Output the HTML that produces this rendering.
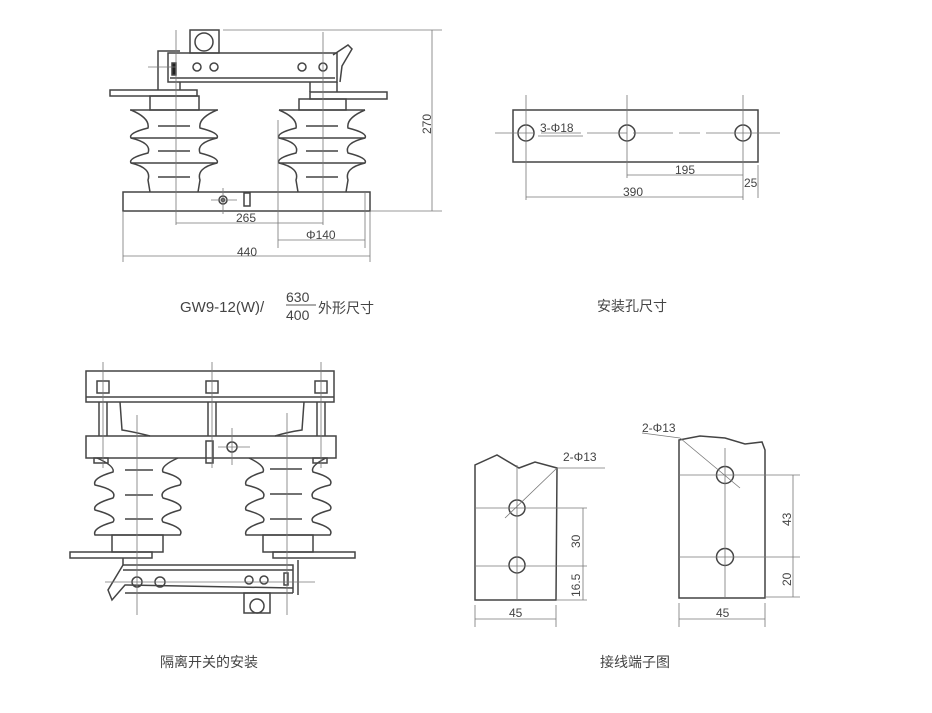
<!DOCTYPE html>
<html><head><meta charset="utf-8"><style>
html,body{margin:0;padding:0;background:#fff;}
svg{display:block}
text{font-family:"Liberation Sans","Noto Sans CJK SC",sans-serif;fill:#444}
</style></head><body>
<svg width="932" height="713" viewBox="0 0 932 713" xmlns="http://www.w3.org/2000/svg">
<g fill="none" stroke="#444" stroke-width="1.5">
<!-- ===== Top-left drawing ===== -->
<rect x="190" y="30" width="29" height="23"/>
<circle cx="204" cy="42" r="9"/>
<rect x="168" y="53" width="169" height="29"/>
<line x1="170" y1="78" x2="335" y2="78"/>
<polyline points="158,90 158,51 180,51"/>
<line x1="180" y1="82" x2="180" y2="90"/>
<circle cx="197" cy="67" r="4"/><circle cx="214" cy="67" r="4"/>
<circle cx="302" cy="67" r="4"/><circle cx="323" cy="67" r="4"/>
<rect x="172" y="63" width="4" height="12" fill="#222"/>
<polyline points="333,55 348,45 352,49 342,66 340,82"/>
<rect x="110" y="90" width="87" height="6"/>
<rect x="310" y="92" width="77" height="7"/>
<line x1="310" y1="82" x2="310" y2="92"/><line x1="337" y1="82" x2="337" y2="92"/>
<rect x="150" y="96" width="49" height="14"/>
<rect x="299" y="99" width="47" height="11"/>
<!-- left insulator -->
<line x1="130" y1="110" x2="218" y2="110"/>
<path d="M131,110 Q150,118 148,128 Q128,133 131,138 Q152,143 148,153 Q128,158 131,163 Q152,168 148,180 L150,192 M217,110 Q198,118 200,128 Q220,133 217,138 Q196,143 200,153 Q220,158 217,163 Q196,168 200,180 L198,192"/>
<line x1="131" y1="138" x2="217" y2="138"/><line x1="131" y1="163" x2="217" y2="163"/>
<line x1="158" y1="126" x2="190" y2="126"/><line x1="158" y1="151" x2="190" y2="151"/><line x1="158" y1="177" x2="190" y2="177"/>
<!-- right insulator -->
<line x1="279" y1="110" x2="365" y2="110"/>
<path d="M279,110 Q298,118 296,128 Q276,133 279,138 Q300,143 296,153 Q276,158 279,163 Q300,168 296,180 L298,192 M365,110 Q346,118 348,128 Q368,133 365,138 Q344,143 348,153 Q368,158 365,163 Q344,168 348,180 L346,192"/>
<line x1="279" y1="138" x2="365" y2="138"/><line x1="279" y1="163" x2="365" y2="163"/>
<line x1="306" y1="126" x2="338" y2="126"/><line x1="306" y1="151" x2="338" y2="151"/><line x1="306" y1="177" x2="338" y2="177"/>
<rect x="123" y="192" width="247" height="19"/>
<circle cx="223" cy="200" r="4"/><circle cx="223" cy="200" r="1.5"/>
<rect x="244" y="193" width="6" height="13"/>
</g>
<g stroke="#777" stroke-width="0.8" fill="none">
<line x1="176" y1="30" x2="176" y2="225"/><line x1="323" y1="32" x2="323" y2="225"/>
<line x1="148" y1="67" x2="176" y2="67"/>
<line x1="211" y1="200" x2="237" y2="200"/><line x1="223" y1="188" x2="223" y2="214"/>
<line x1="176" y1="223" x2="323" y2="223"/>
<line x1="278" y1="120" x2="278" y2="248"/><line x1="365" y1="192" x2="365" y2="248"/>
<line x1="278" y1="240" x2="365" y2="240"/>
<line x1="123" y1="211" x2="123" y2="262"/><line x1="370" y1="211" x2="370" y2="262"/>
<line x1="123" y1="256" x2="370" y2="256"/>
<line x1="223" y1="30" x2="442" y2="30"/><line x1="370" y1="211" x2="442" y2="211"/>
<line x1="432" y1="30" x2="432" y2="211"/>
</g>
<g font-size="12">
<text x="236" y="222">265</text>
<text x="306" y="239">Φ140</text>
<text x="237" y="256">440</text>
<text transform="translate(431,134) rotate(-90)">270</text>
</g>
<text x="180" y="312" font-size="15">GW9-12(W)/</text>
<text x="286" y="302" font-size="14">630</text>
<line x1="286" y1="305" x2="316" y2="305" stroke="#555"/>
<text x="286" y="320" font-size="14">400</text>
<text x="318" y="313" font-size="14">外形尺寸</text>

<!-- ===== Top-right ===== -->
<g fill="none" stroke="#444" stroke-width="1.5">
<rect x="513" y="110" width="245" height="52"/>
<circle cx="526" cy="133" r="8"/><circle cx="627" cy="133" r="8"/><circle cx="743" cy="133" r="8"/>
</g>
<g stroke="#777" stroke-width="0.8">
<line x1="495" y1="133" x2="700" y2="133" stroke-dasharray="40,6"/>
<line x1="706" y1="133" x2="780" y2="133"/>
<line x1="526" y1="95" x2="526" y2="200"/><line x1="627" y1="95" x2="627" y2="178"/><line x1="743" y1="95" x2="743" y2="200"/>
<line x1="758" y1="165" x2="758" y2="198"/>
<line x1="627" y1="175" x2="743" y2="175"/>
<line x1="526" y1="197" x2="743" y2="197"/>
<line x1="538" y1="136" x2="583" y2="136"/>
</g>
<g font-size="12">
<text x="540" y="132">3-Φ18</text>
<text x="675" y="174">195</text>
<text x="744" y="187">25</text>
<text x="623" y="196">390</text>
</g>
<text x="597" y="311" font-size="14">安装孔尺寸</text>

<!-- ===== Bottom-left ===== -->
<g fill="none" stroke="#444" stroke-width="1.5">
<rect x="86" y="371" width="248" height="31"/>
<line x1="86" y1="397" x2="334" y2="397"/>
<g>
<rect x="97" y="381" width="12" height="12"/><rect x="206" y="381" width="12" height="12"/><rect x="315" y="381" width="12" height="12"/>
<line x1="99" y1="402" x2="99" y2="436"/><line x1="107" y1="402" x2="107" y2="436"/>
<line x1="208" y1="402" x2="208" y2="436"/><line x1="216" y1="402" x2="216" y2="436"/>
<line x1="317" y1="402" x2="317" y2="436"/><line x1="325" y1="402" x2="325" y2="436"/>
</g>
<path d="M120,402 L122,430 Q135,432 150,436 M304,402 L302,430 Q288,432 275,436"/>
<rect x="86" y="436" width="250" height="22"/>
<rect x="206" y="441" width="7" height="22"/>
<circle cx="232" cy="447" r="5"/>
<rect x="94" y="458" width="14" height="5"/><rect x="313" y="458" width="14" height="5"/>
<path d="M97,458 Q115,466 113,472 Q92,478 95,485 Q118,490 113,498 Q92,504 95,510 Q118,516 113,522 Q92,528 95,535 L180,535 Q185,528 163,522 Q158,516 180,510 Q185,504 163,498 Q158,490 180,485 Q185,478 163,472 Q160,466 178,458"/>
<path d="M249,458 Q266,466 263,472 Q243,478 246,485 Q268,490 263,498 Q243,504 246,510 Q268,516 263,522 Q243,528 246,535 L330,535 Q335,528 313,522 Q308,516 330,510 Q335,504 313,498 Q308,490 330,485 Q335,478 313,472 Q310,466 326,458"/>
<line x1="125" y1="470" x2="153" y2="470"/><line x1="125" y1="495" x2="153" y2="495"/><line x1="125" y1="519" x2="153" y2="519"/>
<line x1="270" y1="469" x2="302" y2="469"/><line x1="270" y1="494" x2="302" y2="494"/><line x1="270" y1="519" x2="302" y2="519"/>
<rect x="112" y="535" width="51" height="17"/><rect x="263" y="535" width="50" height="17"/>
<rect x="70" y="552" width="82" height="6"/><rect x="273" y="552" width="82" height="6"/>
<polyline points="123,558 123,565 293,565 293,593"/>
<line x1="123" y1="570" x2="293" y2="570"/>
<polyline points="123,565 108,590 112,600 125,585 293,588"/>
<line x1="125" y1="593" x2="293" y2="593"/>
<circle cx="137" cy="582" r="5"/><circle cx="160" cy="582" r="5"/>
<circle cx="249" cy="580" r="4"/><circle cx="264" cy="580" r="4"/>
<rect x="284" y="573" width="4" height="12"/>
<rect x="244" y="593" width="26" height="20"/><circle cx="257" cy="606" r="7"/>
<line x1="298" y1="560" x2="298" y2="595"/>
</g>
<g stroke="#777" stroke-width="0.8">
<line x1="103" y1="362" x2="103" y2="468"/><line x1="212" y1="362" x2="212" y2="468"/><line x1="321" y1="362" x2="321" y2="468"/>
<line x1="137" y1="415" x2="137" y2="615"/><line x1="287" y1="413" x2="287" y2="615"/>
<line x1="218" y1="447" x2="250" y2="447"/><line x1="232" y1="428" x2="232" y2="465"/>
<line x1="105" y1="582" x2="315" y2="582"/>
</g>
<text x="160" y="667" font-size="14">隔离开关的安装</text>

<!-- ===== Bottom-right ===== -->
<g fill="none" stroke="#444" stroke-width="1.5">
<path d="M475,600 L475,465 L497,455 L519,468 L535,462 L557,468 L556,600 Z"/>
<circle cx="517" cy="508" r="8"/><circle cx="517" cy="565" r="8"/>
<path d="M679,598 L679,440 L700,436 L725,438 L745,444 L762,442 L765,450 L765,598 Z"/>
<circle cx="725" cy="475" r="8.5"/><circle cx="725" cy="557" r="8.5"/>
</g>
<g stroke="#777" stroke-width="0.8">
<line x1="517" y1="465" x2="517" y2="600"/>
<line x1="475" y1="508" x2="587" y2="508"/><line x1="475" y1="566" x2="587" y2="566"/>
<line x1="556" y1="600" x2="587" y2="600"/>
<line x1="583" y1="508" x2="583" y2="600"/>
<line x1="475" y1="605" x2="475" y2="627"/><line x1="556" y1="605" x2="556" y2="627"/>
<line x1="475" y1="619" x2="556" y2="619"/>
<line x1="505" y1="518" x2="557" y2="468"/><line x1="557" y1="468" x2="605" y2="468"/>
<line x1="725" y1="448" x2="725" y2="598"/>
<line x1="679" y1="475" x2="800" y2="475"/><line x1="679" y1="557" x2="800" y2="557"/>
<line x1="765" y1="597" x2="800" y2="597"/>
<line x1="793" y1="475" x2="793" y2="597"/>
<line x1="679" y1="603" x2="679" y2="627"/><line x1="765" y1="603" x2="765" y2="627"/>
<line x1="679" y1="619" x2="765" y2="619"/>
<line x1="740" y1="488" x2="680" y2="438"/><line x1="680" y1="438" x2="642" y2="433"/>
</g>
<g font-size="12">
<text x="563" y="461">2-Φ13</text>
<text x="642" y="432">2-Φ13</text>
<text transform="translate(580,548) rotate(-90)">30</text>
<text transform="translate(580,597) rotate(-90)">16.5</text>
<text x="509" y="617">45</text>
<text transform="translate(791,526) rotate(-90)">43</text>
<text transform="translate(791,586) rotate(-90)">20</text>
<text x="716" y="617">45</text>
</g>
<text x="600" y="667" font-size="14">接线端子图</text>
</svg>
</body></html>
